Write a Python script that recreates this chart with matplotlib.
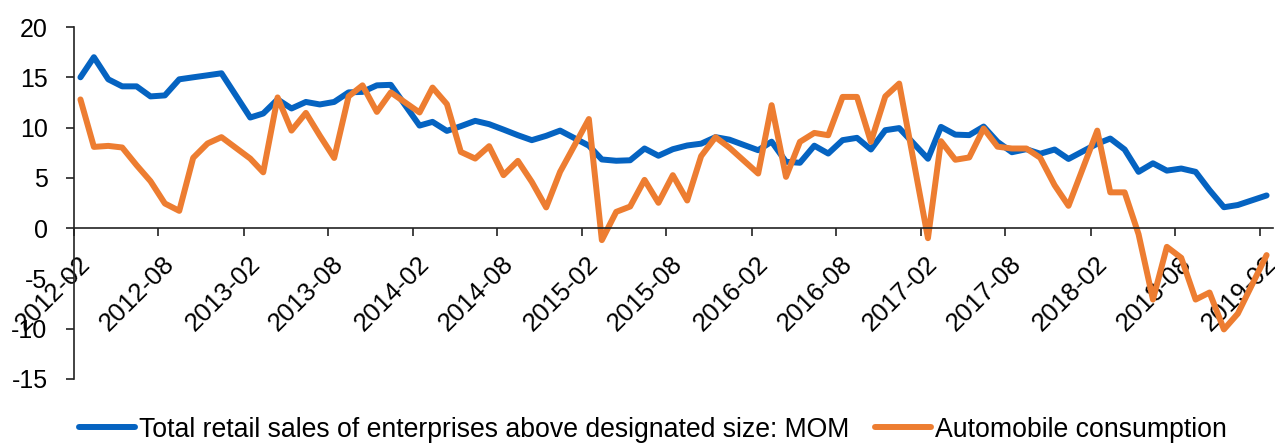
import numpy as np
import pandas as pd
import matplotlib
matplotlib.use("Agg")
import matplotlib.pyplot as plt
import matplotlib.transforms as mtransforms

plt.rcParams['font.family'] = ['Liberation Sans', 'DejaVu Sans']
plt.rcParams['axes.unicode_minus'] = False

# monthly data, 2012-02 .. 2019-02 (January not published -> None)
start = '2012-02'
n_months = 85

retail = [15.0, 17.0, 14.8, 14.1, 14.1, 13.1, 13.2, 14.8, 15.0, 15.2, 15.4, None,
          11.0, 11.4, 12.8, 11.9, 12.55, 12.3, 12.55, 13.5, 13.55, 14.2, 14.25, None,
          10.2, 10.57, 9.67, 10.14, 10.67, 10.34, 9.8, 9.24, 8.75, 9.18, 9.7, None,
          8.2, 6.83, 6.7, 6.75, 7.92, 7.2, 7.85, 8.22, 8.4, 9.05, 8.8, None,
          7.75, 8.6, 6.6, 6.5, 8.2, 7.42, 8.75, 8.98, 7.82, 9.74, 9.95, None,
          6.9, 10.07, 9.3, 9.25, 10.1, 8.58, 7.55, 7.85, 7.4, 7.82, 6.88, None,
          8.4, 8.91, 7.82, 5.6, 6.45, 5.72, 5.93, 5.6, 3.78, 2.08, 2.3, None,
          3.25]

auto = [12.8, 8.08, 8.18, 8.02, 6.26, 4.67, 2.45, 1.72, 6.99, 8.42, 9.05, None,
        6.92, 5.55, 13.0, 9.7, 11.46, 9.2, 6.98, 13.1, 14.2, 11.56, 13.5, None,
        11.5, 13.98, 12.33, 7.58, 6.92, 8.15, 5.27, 6.69, 4.6, 2.06, 5.6, None,
        10.85, -1.19, 1.62, 2.15, 4.8, 2.52, 5.27, 2.75, 7.16, 9.05, 8.0, None,
        5.43, 12.23, 5.1, 8.58, 9.47, 9.24, 13.05, 13.05, 8.58, 13.1, 14.38, None,
        -1.0, 8.65, 6.8, 7.03, 9.91, 8.1, 7.92, 7.92, 7.0, 4.27, 2.22, None,
        9.7, 3.56, 3.56, -0.6, -7.1, -1.86, -2.95, -7.1, -6.4, -10.07, -8.5, None,
        -2.68]

labels = ['Total retail sales of enterprises above designated size: MOM',
          'Automobile consumption']
colors = ['#0563C1', '#ED7D31']

months = pd.date_range(start, periods=n_months, freq='MS')
df = pd.DataFrame({'retail': retail, 'auto': auto}, index=months, dtype=float)
xpos = months + pd.Timedelta(days=14)

fig = plt.figure(figsize=(12.75, 4.43), dpi=100)
ax = fig.add_axes([0.058, 0.1445, 0.9405, 0.7945])

for col, lab, c in zip(['retail', 'auto'], labels, colors):
    s = df[col]
    ok = s.notna().values
    ax.plot(xpos[ok], s.values[ok], color=c, lw=4.3, label=lab,
            solid_joinstyle='round', solid_capstyle='round')

ax.spines['top'].set_visible(False)
ax.spines['right'].set_visible(False)
ax.spines['bottom'].set_position(('data', 0))
for sp in ['left', 'bottom']:
    ax.spines[sp].set_linewidth(1.2)
    ax.spines[sp].set_color('#222222')
ax.tick_params(axis='y', length=6, width=1.2, pad=13, labelsize=18, color='#222222')
ax.tick_params(axis='x', length=6, width=1.2, pad=11, labelsize=18.5, color='#222222')

ax.set_ylim(-15, 20)
ax.set_yticks(np.arange(-15, 21, 5))
ax.set_xlim(months[0], months[-1] + pd.DateOffset(months=1))
ticks = months[::6]
ax.set_xticks(ticks)
ax.set_xticklabels([d.strftime('%Y-%m') for d in ticks], rotation=45,
                   ha='right', va='top', rotation_mode='anchor')
offset = mtransforms.ScaledTranslation(4 / 100, 0, fig.dpi_scale_trans)
for t in ax.get_xticklabels():
    t.set_transform(t.get_transform() + offset)

fig.legend(loc='center', bbox_to_anchor=(0.512, 0.03), ncol=2, frameon=False,
           fontsize=19.2, handlelength=2.1, handletextpad=0.15, columnspacing=0.95)

fig.savefig('out.png', dpi=100)
